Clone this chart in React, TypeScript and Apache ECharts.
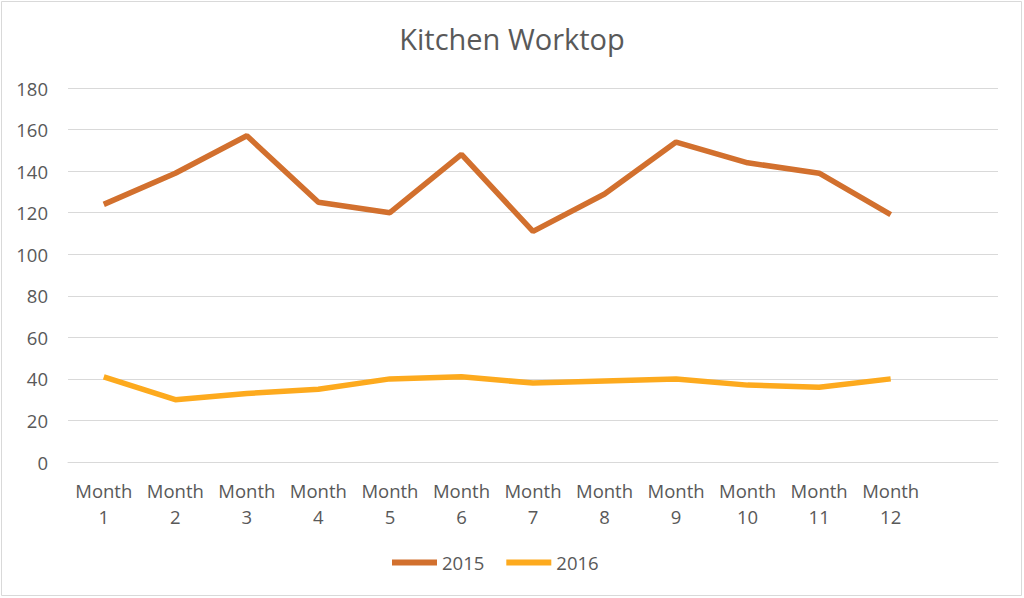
import React, { useEffect, useRef } from "react";
import * as echarts from "echarts";

const categories = [
  "Month\n1", "Month\n2", "Month\n3", "Month\n4", "Month\n5", "Month\n6",
  "Month\n7", "Month\n8", "Month\n9", "Month\n10", "Month\n11", "Month\n12", "",
];
const series2015 = [124, 139, 157, 125, 120, 148, 111, 129, 154, 144, 139, 119, null];
const series2016 = [41, 30, 33, 35, 40, 41, 38, 39, 40, 37, 36, 40, null];
const yTicks = { min: 0, max: 180, interval: 20 };

const FONT = "'Open Sans', 'Noto Sans', sans-serif";
const TEXT = "#595959";

export default function App() {
  const ref = useRef<HTMLDivElement>(null);
  useEffect(() => {
    if (!ref.current) return;
    const chart = echarts.init(ref.current, undefined, { renderer: "svg" });
    chart.setOption({
      animation: false,
      backgroundColor: "#ffffff",
      title: {
        text: "Kitchen Worktop",
        left: "center",
        top: 19,
        textStyle: { fontFamily: FONT, fontSize: 29, fontWeight: "normal", color: TEXT },
      },
      graphic: [
        {
          type: "rect",
          shape: { x: 1.5, y: 1.5, width: 1020, height: 594 },
          style: { fill: "none", stroke: "#d9d9d9", lineWidth: 1 },
          silent: true,
        },
      ],
      legend: {
        top: 548,
        left: 387,
        icon: "rect",
        itemWidth: 45,
        itemHeight: 6,
        itemGap: 22,
        textStyle: { fontFamily: FONT, fontSize: 18.5, color: TEXT },
        data: ["2015", "2016"],
      },
      grid: { left: 68, right: 26, top: 88, bottom: 136, containLabel: false },
      xAxis: {
        type: "category",
        data: categories,
        boundaryGap: true,
        axisLine: { show: true, lineStyle: { color: "#d9d9d9", width: 1 } },
        axisTick: { show: false },
        axisLabel: {
          interval: 0,
          margin: 15,
          fontFamily: FONT,
          fontSize: 18.5,
          lineHeight: 26,
          color: TEXT,
        },
      },
      yAxis: {
        type: "value",
        min: yTicks.min,
        max: yTicks.max,
        interval: yTicks.interval,
        axisLine: { show: false },
        axisTick: { show: false },
        splitLine: { lineStyle: { color: "#d9d9d9", width: 1 } },
        axisLabel: { margin: 20, fontFamily: FONT, fontSize: 18.5, color: TEXT },
      },
      series: [
        {
          name: "2015",
          type: "line",
          data: series2015,
          symbol: "none",
          lineStyle: { width: 5.5, color: "#D2702E" },
          itemStyle: { color: "#D2702E" },
        },
        {
          name: "2016",
          type: "line",
          data: series2016,
          symbol: "none",
          lineStyle: { width: 5.5, color: "#FDAA1E" },
          itemStyle: { color: "#FDAA1E" },
        },
      ],
    });
    return () => chart.dispose();
  }, []);
  return (
    <div style={{ position: "fixed", left: 0, top: 0, width: 1024, height: 598 }}>
      <div ref={ref} style={{ width: 1024, height: 598 }} />
    </div>
  );
}
